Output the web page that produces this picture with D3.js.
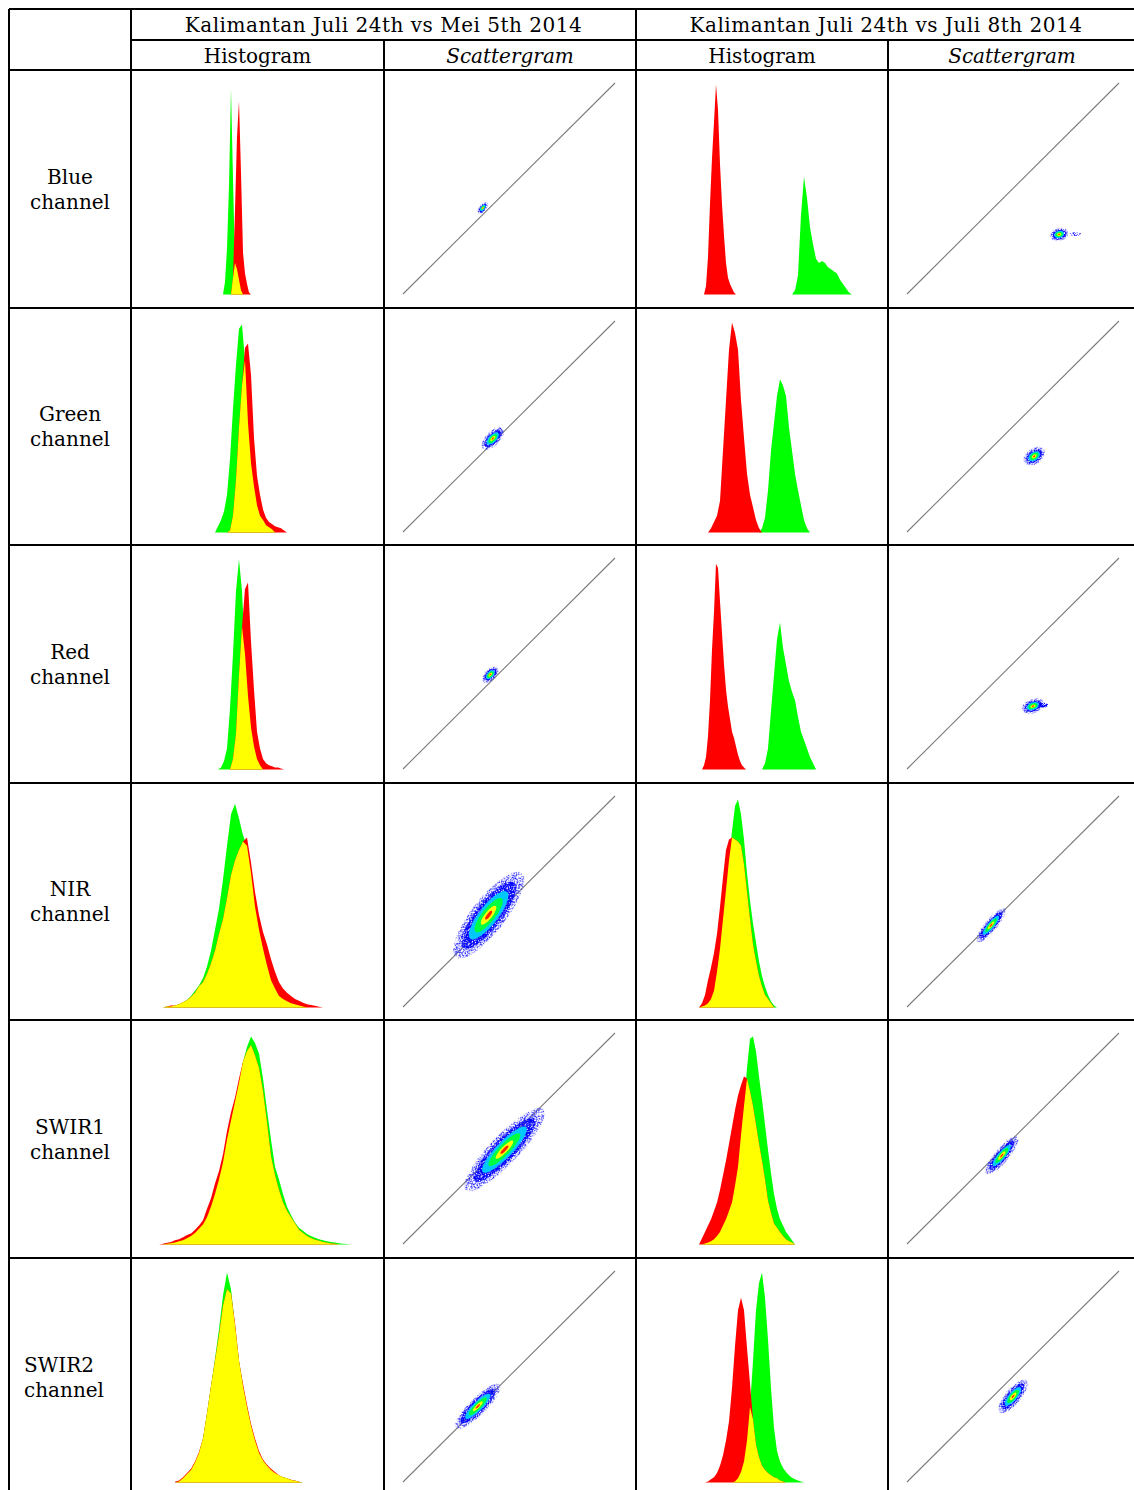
<!DOCTYPE html>
<html>
<head>
<meta charset="utf-8">
<script src="https://cdn.jsdelivr.net/npm/d3@7"></script>
<style>
  body { margin: 0; background: #fff; }
  text { font-family: "DejaVu Serif", serif; fill: #000; font-size: 20px; }
</style>
</head>
<body>
<div id="chart"></div>
<script>
// table text
var groups = ["Kalimantan Juli 24th vs Mei 5th 2014", "Kalimantan Juli 24th vs Juli 8th 2014"];
var subHeads = ["Histogram", "Scattergram"];
var channels = ["Blue", "Green", "Red", "NIR", "SWIR1", "SWIR2"];

// histograms: [first DN, DN step, counts in % of the tallest peak], one per channel
var histMeiRed = [
  [100, 2, [0, 8, 40, 75, 92, 58, 20, 10, 5, 1, 0]],
  [96, 3, [0, 1, 8, 25, 50, 70, 88, 90, 75, 45, 27, 18, 11, 7, 5, 4, 3, 2.5, 2, 1, 0]],
  [99, 3, [0, 5, 17, 45, 68, 86, 89, 61, 38, 18, 10, 5, 3, 2, 1.5, 1, 1, 0.5, 0]],
  [32, 4, [0, 0.5, 1, 1, 1.5, 2.5, 3.5, 5, 7, 10, 12, 16, 21, 27, 35, 42, 52, 63, 70, 75, 79, 81, 69, 55, 44, 36, 30, 23, 17, 12, 9, 7, 5.5, 4, 3.2, 2.3, 1.6, 1.2, 0.8, 0.4, 0]],
  [28, 4, [0, 0.3, 0.8, 1.2, 2, 2.5, 3.5, 4.5, 5.2, 7, 9, 11.6, 17, 22, 29, 35, 43, 54, 63, 70, 79, 87, 92, 95, 90, 84, 73, 58, 42, 33, 26, 20, 16, 13, 10, 7, 5.5, 4, 3, 2.3, 1.8, 1.2, 0.8, 0.5, 0.3, 0]],
  [44, 4, [0.3, 1, 2.5, 4.5, 6.5, 10, 14.5, 21, 33, 46, 58, 70, 84, 92, 90, 76, 58, 47, 37, 28, 21, 15, 11, 8.5, 6.5, 5, 3.5, 2.5, 2, 1.3, 0.9, 0.4, 0]]
];
var histMeiGreen = [
  [92, 2, [0, 6, 22, 52, 98, 55, 15, 12, 7, 2, 0]],
  [84, 3, [0, 3, 6, 10, 18, 35, 59, 80, 97, 99, 82, 52, 33, 22, 13, 8, 6, 3.5, 2.5, 1.5, 0]],
  [87, 3, [0, 1, 4, 10, 29, 55, 85, 100, 85, 55, 35, 20, 11, 5, 2, 0]],
  [32, 4, [0, 0.5, 0.5, 1, 1.5, 2.5, 3.6, 5.5, 8, 10.5, 14, 19.5, 27, 37, 47, 61, 77, 92, 97, 90, 82, 77, 64, 48, 37, 28, 20, 13, 9, 5.5, 4, 3, 2, 1.5, 1, 0.5, 0]],
  [28, 4, [0, 0, 0.3, 0.6, 1, 1.5, 2, 3, 4, 5.5, 7.5, 9.5, 13, 18, 24, 31, 39, 50, 59, 68, 77, 87, 94, 99, 96, 91, 79, 64, 50, 37, 31, 24, 18, 14, 10.5, 8, 6.5, 5, 4, 3.2, 2.5, 2, 1.5, 1.2, 0.9, 0.6, 0.4, 0.2, 0]],
  [44, 4, [0, 0.5, 2, 4, 6, 9.5, 14, 21, 33, 46, 59, 73, 89, 100, 92, 75, 58, 46, 36, 27, 20, 14, 10.5, 8, 6, 4.5, 3.5, 2.5, 2, 1.2, 0.8, 0.4, 0]]
];
var histJuliRed = [
  [68, 2, [0, 4, 18, 43, 65, 82, 100, 88, 62, 43, 28, 15, 8, 5, 3, 1, 0]],
  [72, 3, [0, 2, 5, 8, 15, 39, 63, 87, 100, 95, 87, 63, 45, 28, 18, 12, 6, 2, 0]],
  [66, 2, [0, 2, 6, 16, 33, 57, 75, 98, 96, 80, 65, 50, 38, 30, 24, 18, 15, 11, 7, 4, 2, 1, 0]],
  [63, 3, [0, 2, 6, 13, 19, 26, 35, 48, 62, 75, 80, 81, 80, 79, 77, 68, 55, 42, 30, 22, 15, 10, 6, 4, 2, 0]],
  [63, 3, [0, 3, 6, 9, 12, 16, 20, 26, 33, 40, 48, 56, 64, 71, 76, 80, 79, 73, 66, 57, 48, 40, 31, 21, 15, 10, 8, 6, 4, 2.5, 1.5, 1, 0]],
  [69, 3, [0, 0.5, 1.5, 2.5, 4.5, 8, 13, 20, 29, 45, 65, 82, 88, 82, 64, 47, 30, 18, 12, 8, 6, 4.5, 3.5, 2.5, 2, 1, 0.5, 0]]
];
var histJuliGreen = [
  [156, 3, [0, 2, 9, 38, 56, 46, 32, 24, 17, 15, 16, 15, 13, 12, 11, 10, 7, 5, 3, 1, 0]],
  [123, 3, [0, 2, 7, 20, 39, 52, 65, 73, 70, 65, 50, 39, 28, 20, 13, 6, 2, 0]],
  [126, 3, [0, 3, 10, 28, 45, 62, 70, 58, 50, 42, 37, 33, 25, 18, 14, 10, 6, 3, 0]],
  [63, 3, [0, 0.5, 1, 2, 4, 8, 17, 28, 42, 56, 70, 84, 96, 99, 92, 80, 64, 51, 40, 31, 22, 15, 10, 6, 3, 1, 0]],
  [63, 3, [0, 0, 0.5, 1, 1.5, 2.5, 4, 6, 9, 12, 16, 20, 28, 37, 52, 66, 84, 98, 99, 92, 80, 69, 57, 45, 34, 24, 17, 12, 9, 6, 4, 2, 0]],
  [96, 3, [0, 0.5, 2, 5, 10, 20, 36, 58, 82, 95, 100, 88, 68, 45, 26, 15, 10, 7, 5, 3.5, 2.3, 1.5, 1, 0.5, 0]]
];

// scattergram clusters: centre x, y (DN), half length, half width (DN), axis angle (deg), density levels shown
var scatMei = [
  [[96, 104, 8, 4, 50, 6]],
  [[108, 113, 17, 8, 45, 6]],
  [[105, 114, 12, 6.5, 45, 6]],
  [[103, 111, 64, 20, 52, 6]],
  [[122, 114, 67, 17, 46, 6]],
  [[90, 91.5, 37, 10, 45, 6]]
];
var scatJuli = [
  [[183, 72, 11, 7.5, 15, 6], [203, 72.5, 7, 2.5, 0, 1]],
  [[153, 91.5, 14, 9, 35, 6]],
  [[151.5, 76, 14, 8, 20, 6], [164, 77, 6, 3, 0, 2]],
  [[101, 98.7, 26, 7, 50, 6]],
  [[114, 107, 29, 8, 50, 6]],
  [[127.6, 103.5, 25, 9, 50, 6]]
];

var W = 1134, H = 1490;
var colX = [9, 131, 384, 636, 888, 1136];   // right border falls outside the picture
var rowY = [70, 308, 545, 783, 1020, 1258, 1496];
var levelSize = [1, 0.78, 0.56, 0.4, 0.22, 0.1];
var levelColor = ["#2020ff", "#0000ff", "#00c8ff", "#00ff40", "#ffff00", "#ff2000"];

var svg = d3.select("#chart").append("svg")
  .attr("width", W)
  .attr("height", H);
svg.append("rect").attr("width", W).attr("height", H).attr("fill", "#fff");

// noisy masks so the outer rings of each cluster look like scattered pixels
var defs = svg.append("defs");
function speckle(id, cut) {
  var f = defs.append("filter")
    .attr("id", id)
    .attr("x", "-20%").attr("y", "-20%")
    .attr("width", "140%").attr("height", "140%");
  f.append("feTurbulence")
    .attr("type", "fractalNoise")
    .attr("baseFrequency", 0.9)
    .attr("numOctaves", 1)
    .attr("seed", 7)
    .attr("result", "noise");
  f.append("feColorMatrix")
    .attr("in", "noise")
    .attr("type", "matrix")
    .attr("values", "0 0 0 0 0  0 0 0 0 0  0 0 0 0 0  7 0 0 0 " + cut)
    .attr("result", "mask");
  f.append("feComposite")
    .attr("in", "SourceGraphic")
    .attr("in2", "mask")
    .attr("operator", "in");
}
speckle("speckle0", -3.3);
speckle("speckle1", -2.5);

function points(s) {
  return s[2].map(function(v, i) { return {x: s[0] + i * s[1], v: v}; });
}

function drawHist(g, left, top, red, green) {
  var x = d3.scaleLinear().domain([0, 252]).range([left, left + 252]);
  var y = d3.scaleLinear().domain([0, 100]).range([top + 224.5, top + 14.5]);
  var area = d3.area()
    .x(function(d) { return x(d.x); })
    .y0(y(0))
    .y1(function(d) { return y(d.v); });

  var rp = points(red), gp = points(green);
  var gmap = new Map(gp.map(function(d) { return [d.x, d.v]; }));
  // overlap of both dates shows as yellow
  var both = rp.filter(function(d) { return gmap.has(d.x); })
    .map(function(d) { return {x: d.x, v: Math.min(d.v, gmap.get(d.x))}; });

  g.append("path").datum(gp).attr("fill", "#00ff00").attr("d", area);
  g.append("path").datum(rp).attr("fill", "#ff0000").attr("d", area);
  if (both.length > 1)
    g.append("path").datum(both).attr("fill", "#ffff00").attr("d", area);
}

function drawScatter(g, left, top, blobs) {
  var x = d3.scaleLinear().domain([0, 255]).range([left + 19, left + 231]);
  var y = d3.scaleLinear().domain([0, 255]).range([top + 224, top + 13]);
  var k = x(1) - x(0);

  g.append("line")
    .attr("x1", x(0)).attr("y1", y(0))
    .attr("x2", x(255)).attr("y2", y(255))
    .attr("stroke", "#7a7a7a")
    .attr("stroke-width", 1.1);

  blobs.forEach(function(b) {
    var bg = g.append("g")
      .attr("transform", "translate(" + x(b[0]) + "," + y(b[1]) + ") rotate(" + (-b[4]) + ")");
    for (var l = 0; l < b[5]; l++) {
      var e = bg.append("ellipse")
        .attr("rx", Math.max(b[2] * k * levelSize[l], 0.6))
        .attr("ry", Math.max(b[3] * k * levelSize[l], 0.6))
        .attr("fill", levelColor[l]);
      if (l < 2) e.attr("filter", "url(#speckle" + l + ")");
    }
  });
}

var cols = [
  {h: colX[1], s: colX[2], red: histMeiRed, green: histMeiGreen, scat: scatMei},
  {h: colX[3], s: colX[4], red: histJuliRed, green: histJuliGreen, scat: scatJuli}
];

var plots = svg.append("g");
channels.forEach(function(ch, r) {
  cols.forEach(function(c) {
    drawHist(plots.append("g"), c.h, rowY[r], c.red[r], c.green[r]);
    drawScatter(plots.append("g"), c.s, rowY[r], c.scat[r]);
  });
});

// header text
groups.forEach(function(t, i) {
  svg.append("text")
    .attr("x", (colX[1 + 2 * i] + colX[3 + 2 * i]) / 2)
    .attr("y", 24.5)
    .attr("dy", "0.35em")
    .attr("text-anchor", "middle")
    .style("letter-spacing", "0.5px")
    .text(t);
  subHeads.forEach(function(s, j) {
    svg.append("text")
      .attr("x", (colX[1 + 2 * i + j] + colX[2 + 2 * i + j]) / 2)
      .attr("y", 55.5)
      .attr("dy", "0.35em")
      .attr("text-anchor", "middle")
      .style("font-style", j == 1 ? "italic" : "normal")
      .text(s);
  });
});

// row labels, the last one is set flush left in the original
channels.forEach(function(ch, r) {
  var last = r == channels.length - 1;
  var cy = last ? 1377 : (rowY[r] + rowY[r + 1]) / 2;
  [ch, "channel"].forEach(function(t, k) {
    svg.append("text")
      .attr("x", last ? 24 : (colX[0] + colX[1]) / 2)
      .attr("y", cy - 12.5 + k * 25)
      .attr("dy", "0.35em")
      .attr("text-anchor", last ? "start" : "middle")
      .text(t);
  });
});

// table rules
var rules = svg.append("g").attr("stroke", "#000").attr("stroke-width", 2);
rules.append("line").attr("x1", colX[0]).attr("x2", W + 2).attr("y1", 9).attr("y2", 9);
rules.append("line").attr("x1", colX[1]).attr("x2", W + 2).attr("y1", 40).attr("y2", 40);
rowY.forEach(function(yy) {
  rules.append("line").attr("x1", colX[0]).attr("x2", W + 2).attr("y1", yy).attr("y2", yy);
});
colX.forEach(function(xx, i) {
  rules.append("line")
    .attr("x1", xx).attr("x2", xx)
    .attr("y1", (i == 2 || i == 4) ? 40 : 9)
    .attr("y2", H + 10);
});
</script>
</body>
</html>
